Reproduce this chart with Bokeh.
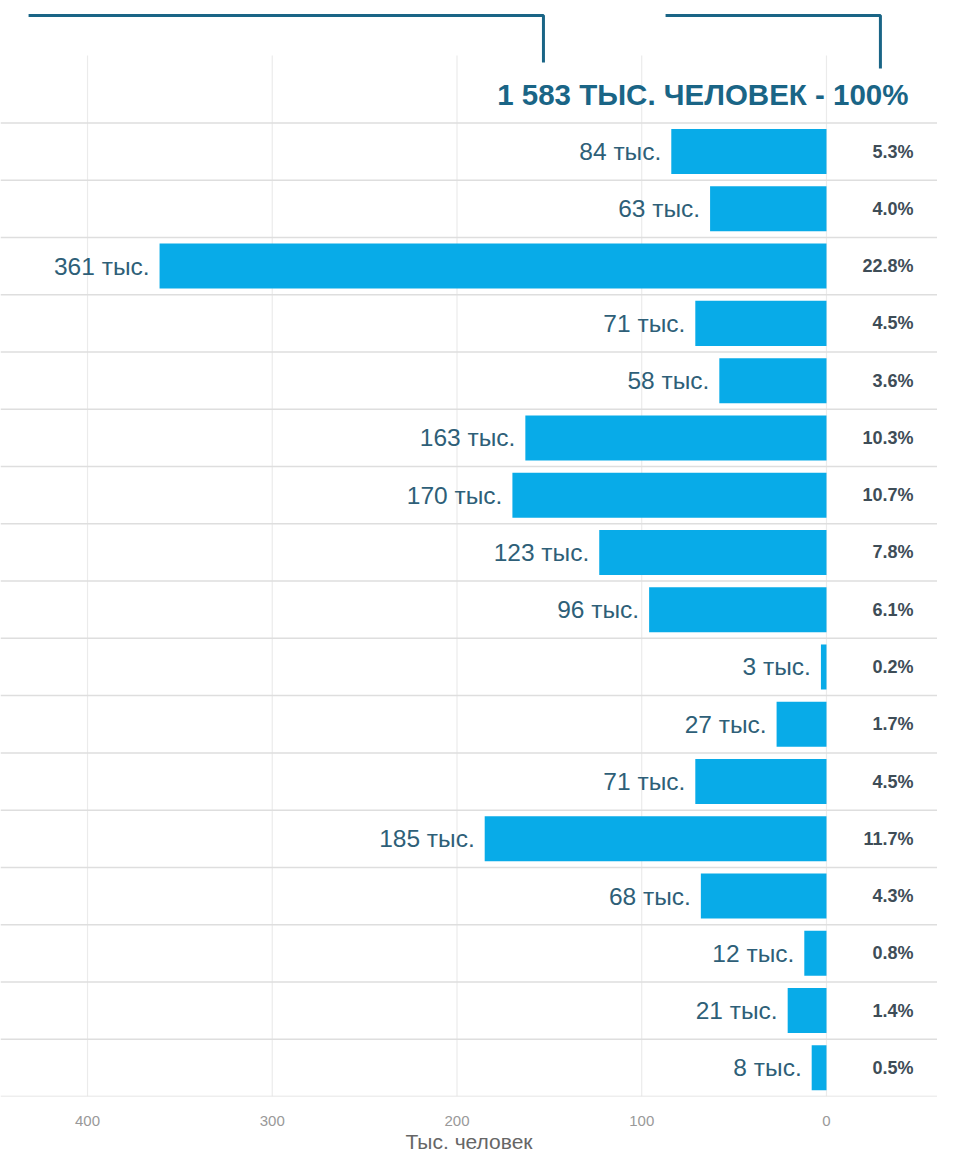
from bokeh.plotting import figure
from bokeh.models import Range1d, FixedTicker, ColumnDataSource
from bokeh.core.properties import value
from bokeh.embed import file_html
from bokeh.resources import INLINE

values = [84, 63, 361, 71, 58, 163, 170, 123, 96, 3, 27, 71, 185, 68, 12, 21, 8]
shares = ["5.3%", "4.0%", "22.8%", "4.5%", "3.6%", "10.3%", "10.7%", "7.8%", "6.1%",
          "0.2%", "1.7%", "4.5%", "11.7%", "4.3%", "0.8%", "1.4%", "0.5%"]
value_labels = [f"{v} тыс." for v in values]
total_label = "1 583 ТЫС. ЧЕЛОВЕК - 100%"
x_ticks = [0, 100, 200, 300, 400]
x_title = "Тыс. человек"

rows = list(range(len(values)))
zeros = [0] * len(values)

BAR = "#08abe8"
DARK = "#1a6586"
LABEL = "#2e5f78"
PCT = "#3e4d57"
GRID = "#ebebeb"
SEP = "#dedede"

XL, XR = 447.1, -60.1
YB, YT = 16.5, -2.638

p = figure(frame_width=937, frame_height=1096, output_backend="svg",
           toolbar_location=None, x_range=Range1d(XL, XR), y_range=Range1d(YB, YT),
           min_border_left=0, min_border_right=0, min_border_top=0, min_border_bottom=0)
p.outline_line_color = None
p.xgrid.visible = False
p.ygrid.visible = False
p.yaxis.visible = False
p.background_fill_color = "white"
p.border_fill_color = "white"

xa = p.xaxis[0]
xa.ticker = FixedTicker(ticks=x_ticks)
xa.axis_line_color = None
xa.major_tick_line_color = None
xa.minor_tick_line_color = None
xa.major_label_standoff = 13
xa.major_label_text_font = "Liberation Sans"
xa.major_label_text_font_size = "15px"
xa.major_label_text_color = "#999999"
xa.axis_label = x_title
xa.axis_label_standoff = 1
xa.axis_label_text_font = "Liberation Sans"
xa.axis_label_text_font_size = "21px"
xa.axis_label_text_font_style = "normal"
xa.axis_label_text_color = "#666666"

# vertical gridlines
p.segment(x0=x_ticks, x1=x_ticks, y0=[-1.677] * len(x_ticks), y1=[YB] * len(x_ticks),
          line_color=GRID, line_width=1.2)
# row separators
seps = [r - 0.5 for r in rows] + [rows[-1] + 0.5]
p.segment(x0=[XL] * len(seps), x1=[XR] * len(seps), y0=seps, y1=seps,
          line_color=SEP, line_width=1.5)

src = ColumnDataSource(dict(y=rows, v=values, z=zeros, lab=value_labels, pct=shares,
                            px=[-47.1] * len(values)))
p.hbar(y="y", left="v", right="z", height=0.786, source=src, fill_color=BAR,
       line_color=None)
p.text(x="v", y="y", text="lab", source=src, text_align="right", text_baseline="middle",
       x_offset=-10, text_font=value("Liberation Sans"), text_font_size="24.5px",
       text_color=LABEL)
p.text(x="px", y="y", text="pct", source=src, text_align="right", text_baseline="middle",
       text_font=value("Liberation Sans"), text_font_size="18px", text_font_style="bold",
       text_color=PCT)

# header text
p.text(x=[-44.4], y=[-1.0], text=[total_label], text_align="right", text_baseline="middle",
       text_font=value("Liberation Sans"), text_font_size="29.5px", text_font_style="bold",
       text_color=DARK)

# bracket connectors
p.line(x=[431.9, 153.2, 153.2], y=[-2.376, -2.376, -1.555], line_color=DARK, line_width=3)
p.line(x=[87.1, -29.2, -29.2], y=[-2.376, -2.376, -1.45], line_color=DARK, line_width=3)

open("out.html", "w").write(file_html(p, INLINE))
